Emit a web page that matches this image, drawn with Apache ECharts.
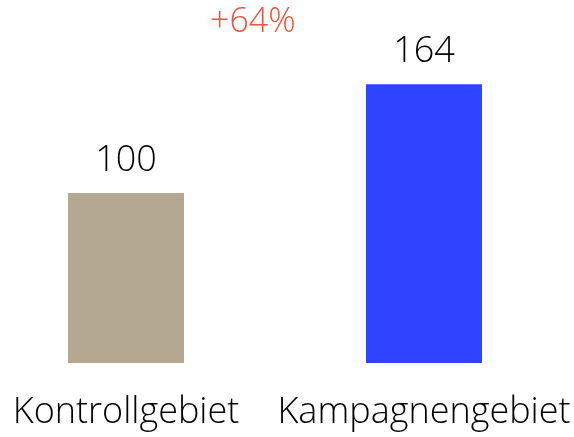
<!DOCTYPE html>
<html>
<head>
<meta charset="utf-8">
<script src="https://cdn.jsdelivr.net/npm/echarts@6/dist/echarts.min.js"></script>
<style>
  html, body { margin: 0; padding: 0; background: #fff; }
  #chart { width: 574px; height: 437px; }
</style>
</head>
<body>
<div id="chart"></div>
<script>
  var categories = ['Kontrollgebiet', 'Kampagnengebiet']
  var values = [100, 164]
  var barColors = ['#b4a891', '#2e44ff']
  var upliftText = '+64%'

  var font = '"Open Sans", "Noto Sans", sans-serif'

  var chart = echarts.init(document.getElementById('chart'))

  var options = {
    animation: false,
    grid: {
      left: -23,
      width: 596,
      top: 23,
      bottom: 74,
      outerBoundsMode: 'none'
    },
    xAxis: {
      type: 'category',
      data: categories,
      axisLine: { show: false },
      axisTick: { show: false },
      axisLabel: {
        interval: 0,
        hideOverlap: false,
        color: '#000',
        fontSize: 36,
        fontFamily: font,
        fontWeight: 300,
        margin: 32
      }
    },
    yAxis: {
      type: 'value',
      min: 0,
      max: 200,
      show: false,
      splitLine: { show: false }
    },
    // +64% annotation
    graphic: [{
      type: 'text',
      left: 210,
      top: 5,
      style: {
        text: upliftText,
        fill: '#f2503f',
        font: '300 34px ' + font
      }
    }],
    series: [{
      type: 'bar',
      barWidth: 116,
      data: values.map(function (v, i) {
        return { value: v, itemStyle: { color: barColors[i] } }
      }),
      label: {
        show: true,
        position: 'top',
        distance: 14,
        color: '#000',
        fontSize: 36,
        fontFamily: font,
        fontWeight: 300
      }
    }]
  }

  chart.setOption(options)
</script>
</body>
</html>
